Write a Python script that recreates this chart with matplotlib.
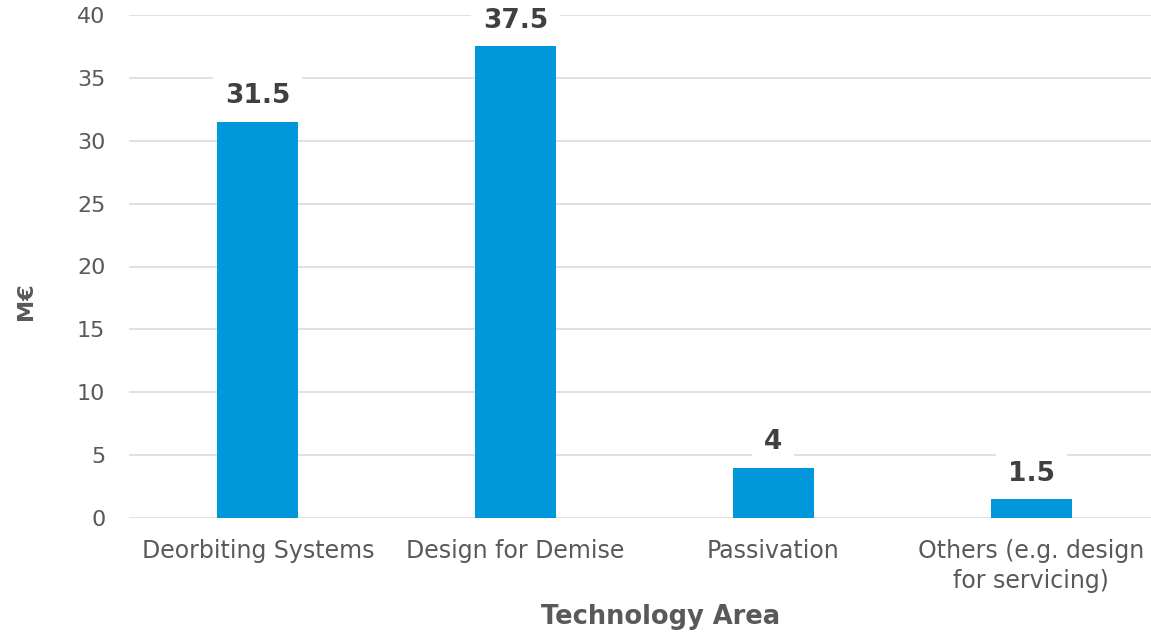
import numpy as np
from matplotlib import pyplot as plt

categories = ["Deorbiting Systems", "Design for Demise", "Passivation",
              "Others (e.g. design\nfor servicing)"]
values = [31.5, 37.5, 4, 1.5]
value_labels = ["31.5", "37.5", "4", "1.5"]
y_ticks = [0, 5, 10, 15, 20, 25, 30, 35, 40]

bar_color = '#0098DA'
grid_color = '#D9D9D9'
tick_color = '#595959'
label_color = '#404040'

W, H = 1151, 633
fig = plt.figure(figsize=(W / 100, H / 100), dpi=100)
# plot area: left 129px, y=0 at 518px, y=40 at 15px, right edge runs past the image
ax = fig.add_axes([129 / W, (H - 518) / H, (1160 - 129) / W, (518 - 15) / H])

x = np.arange(len(categories))
ax.bar(x, values, width=0.315, color=bar_color, zorder=2)

ax.set_xlim(-0.5, len(categories) - 0.5)
ax.set_ylim(0, 40)
ax.set_yticks(y_ticks)
ax.set_yticklabels([str(t) for t in y_ticks])
ax.set_xticks(x)
ax.set_xticklabels(categories, linespacing=1.3, fontsize=17)

for s in ax.spines.values():
    s.set_visible(False)
ax.yaxis.grid(True, color=grid_color, linewidth=1.1, zorder=0)
ax.set_axisbelow(True)
ax.tick_params(axis='both', length=0, colors=tick_color)
ax.tick_params(axis='y', pad=17, labelsize=16)
ax.tick_params(axis='x', pad=15)

for xi, v, lab in zip(x, values, value_labels):
    ax.annotate(lab, xy=(xi, v), xytext=(0, 9), textcoords='offset points',
                ha='center', va='bottom', fontsize=19, fontweight='bold',
                color=label_color, zorder=3,
                bbox=dict(boxstyle='square,pad=0.45', fc='white', ec='none'))

fig.text(661 / W, 1 - 617 / H, "Technology Area", ha='center', va='center',
         fontsize=18.5, fontweight='bold', color=tick_color)
fig.text(26 / W, 1 - 301 / H, "M€", ha='center', va='center', rotation=90,
         fontsize=16, fontweight='bold', color=tick_color)

fig.savefig('out.png', dpi=100)
